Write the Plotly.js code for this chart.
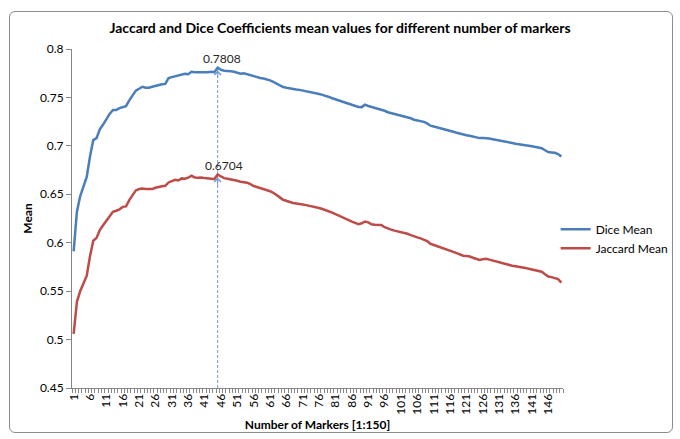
<!DOCTYPE html>
<html>
<head>
<meta charset="utf-8">
<script src="https://cdn.plot.ly/plotly-3.0.1.min.js"></script>
<style>
  html, body { margin: 0; padding: 0; background: #fff; }
  #wrap { position: relative; width: 680px; height: 439px; }
  #chart { width: 680px; height: 439px; }
  #frame { position: absolute; left: 9px; top: 11px; width: 662px; height: 420px;
           border: 1px solid #8c8c8c; border-radius: 6px; pointer-events: none; }
</style>
</head>
<body>
<div id="wrap">
  <div id="chart"></div>
  <div id="frame"></div>
</div>
<script>
// Number of markers (categories 1..150)
const markers = Array.from({length: 150}, (_, i) => i + 1);

// Tick labels shown on the x axis
const xTickLabels = ["1","6","11","16","21","26","31","36","41","46","51","56","61","66","71","76","81","86","91","96","101","106","111","116","121","126","131","136","141","146"];

// Dice mean values
const diceMean = [
  0.591,0.632,0.648,0.658,0.668,0.689,0.706,0.708,0.717,0.722,
  0.728,0.733,0.737,0.737,0.739,0.740,0.741,0.747,0.752,0.757,
  0.759,0.761,0.760,0.760,0.761,0.762,0.763,0.7635,0.764,0.770,
  0.771,0.772,0.773,0.7735,0.7745,0.774,0.7765,0.776,0.776,0.7755,
  0.776,0.776,0.7765,0.776,0.7808,0.7786,0.7776,0.7775,0.7770,0.7765,
  0.7752,0.7745,0.7750,0.7740,0.7725,0.7715,0.7708,0.7700,0.7695,0.7688,
  0.7676,0.7660,0.7641,0.7625,0.7607,0.7600,0.7592,0.7587,0.7582,0.7578,
  0.7572,0.7566,0.7560,0.7553,0.7545,0.7535,0.7526,0.7518,0.7505,0.7492,
  0.7480,0.7468,0.7458,0.7446,0.7435,0.7420,0.7407,0.7402,0.7400,0.7425,
  0.7412,0.7402,0.7395,0.7388,0.7378,0.7362,0.7347,0.7338,0.7330,0.7322,
  0.7315,0.7306,0.7298,0.7285,0.7270,0.7262,0.7256,0.7248,0.7232,0.7208,
  0.7200,0.7192,0.7184,0.7175,0.7165,0.7156,0.7146,0.7136,0.7125,0.7116,
  0.7110,0.7104,0.7095,0.7084,0.7080,0.7081,0.7080,0.7075,0.7068,0.7063,
  0.7058,0.7052,0.7046,0.7040,0.7030,0.7022,0.7018,0.7015,0.7012,0.7002,
  0.6995,0.6988,0.6980,0.6975,0.6955,0.6936,0.6932,0.6928,0.6915,0.6890
];

// Jaccard mean values
const jaccardMean = [
  0.506,0.539,0.550,0.558,0.566,0.586,0.602,0.605,0.613,0.618,
  0.623,0.627,0.632,0.633,0.6345,0.637,0.6375,0.644,0.6485,0.654,
  0.6554,0.656,0.6554,0.6557,0.6554,0.6567,0.6578,0.6582,0.6588,0.6622,
  0.6636,0.665,0.6643,0.6664,0.6661,0.6671,0.6691,0.6674,0.6671,0.6674,
  0.6667,0.6667,0.666,0.6657,0.6704,0.6684,0.6667,0.6660,0.6655,0.6648,
  0.6640,0.6630,0.6628,0.6620,0.6605,0.6585,0.6575,0.6565,0.6555,0.6545,
  0.6532,0.6515,0.6495,0.6468,0.6443,0.6430,0.6418,0.6410,0.6405,0.6402,
  0.6395,0.6388,0.6382,0.6375,0.6365,0.6358,0.6348,0.6338,0.6325,0.6310,
  0.6295,0.6278,0.6262,0.6248,0.6232,0.6218,0.6205,0.6192,0.6200,0.6219,
  0.6210,0.6190,0.6185,0.6186,0.6184,0.6160,0.6145,0.6135,0.6125,0.6117,
  0.6110,0.6100,0.6092,0.6078,0.6064,0.6055,0.6045,0.6035,0.6018,0.5989,
  0.5978,0.5965,0.5952,0.5942,0.5932,0.5921,0.5905,0.5892,0.5878,0.5866,
  0.5862,0.5858,0.5845,0.5830,0.5823,0.5830,0.5834,0.5825,0.5815,0.5806,
  0.5798,0.5788,0.5778,0.5768,0.5762,0.5756,0.5752,0.5746,0.5740,0.5732,
  0.5724,0.5718,0.5710,0.5700,0.5675,0.5651,0.5645,0.5638,0.5625,0.5589
];

const FONT = "Lato, 'Open Sans', sans-serif";
const diceColor = "#4A7EBB";
const jacColor = "#BE4B48";
const guideColor = "#6F9BD6";

function argmax(a) { let k = 0; for (let i = 1; i < a.length; i++) if (a[i] > a[k]) k = i; return k; }
const dIdx = argmax(diceMean), jIdx = argmax(jaccardMean);
const dPeakX = markers[dIdx], dPeakY = diceMean[dIdx];
const jPeakX = markers[jIdx], jPeakY = jaccardMean[jIdx];

const traces = [
  { x: markers, y: diceMean, type: "scatter", mode: "lines", name: "Dice Mean",
    line: { color: diceColor, width: 2.5 } },
  { x: markers, y: jaccardMean, type: "scatter", mode: "lines", name: "Jaccard Mean",
    line: { color: jacColor, width: 2.5 } }
];

const tickVals = xTickLabels.map(Number);

const layout = {
  width: 680, height: 439,
  margin: { l: 72, r: 117, t: 49, b: 51, autoexpand: false },
  paper_bgcolor: "#ffffff", plot_bgcolor: "#ffffff",
  font: { family: FONT, size: 12, color: "#000" },
  title: { text: "Jaccard and Dice Coefficients mean values for different number of markers",
           font: { family: FONT, size: 14, color: "#000", weight: "bold" },
           x: 0.5, xref: "container", y: 1 - 28 / 439, yref: "container", yanchor: "middle" },
  showlegend: true,
  legend: { x: 0.985, xanchor: "left", xref: "paper", y: 0.44, yanchor: "middle",
            font: { family: FONT, size: 12, color: "#000" }, itemwidth: 30,
            bgcolor: "rgba(0,0,0,0)", tracegroupgap: 0 },
  xaxis: {
    range: [0.5, 150.5], showgrid: false, zeroline: false,
    showline: true, linecolor: "#868686", linewidth: 1,
    tickmode: "array", tickvals: tickVals, ticktext: xTickLabels,
    ticks: "outside", ticklen: 0, tickcolor: "#868686",
    tickangle: -90, tickfont: { family: FONT, size: 12, color: "#000" },
    minor: { ticks: "outside", ticklen: 4, tickcolor: "#868686", tickmode: "linear", tick0: 0.5, dtick: 1, showgrid: false },
    title: { text: "Number of Markers [1:150]", font: { family: FONT, size: 12, color: "#000", weight: "bold" }, standoff: 6 },
    automargin: false
  },
  yaxis: {
    range: [0.45, 0.8], dtick: 0.05, tick0: 0.45, showgrid: false, zeroline: false,
    showline: true, linecolor: "#868686", linewidth: 1,
    ticks: "outside", ticklen: 5, tickcolor: "#868686",
    tickfont: { family: FONT, size: 12, color: "#000" },
    title: { text: "Mean", font: { family: FONT, size: 12, color: "#000", weight: "bold" }, standoff: 4 },
    automargin: false
  },
  shapes: [
    { type: "line", xref: "x", yref: "y", x0: dPeakX, x1: dPeakX, y0: 0.45, y1: dPeakY,
      line: { color: guideColor, width: 1, dash: "3px,2px" }, layer: "below" }
  ],
  annotations: [
    { x: dPeakX, y: dPeakY, xref: "x", yref: "y", text: "0.7808", showarrow: false,
      yanchor: "bottom", yshift: 0, xshift: 4, font: { family: FONT, size: 12, color: "#262626" } },
    { x: jPeakX, y: jPeakY, xref: "x", yref: "y", text: "0.6704", showarrow: false,
      yanchor: "bottom", yshift: 0, xshift: 6, font: { family: FONT, size: 12, color: "#262626" } },
    { x: dPeakX, y: dPeakY, xref: "x", yref: "y", text: "", showarrow: true,
      ax: 0, ay: 12, arrowhead: 4, arrowsize: 1.3, arrowwidth: 1, arrowcolor: guideColor, standoff: 3 },
    { x: jPeakX, y: jPeakY, xref: "x", yref: "y", text: "", showarrow: true,
      ax: 0, ay: 12, arrowhead: 4, arrowsize: 1.3, arrowwidth: 1, arrowcolor: guideColor, standoff: 3 }
  ]
};

Plotly.newPlot("chart", traces, layout, { displayModeBar: false, staticPlot: true });
</script>
</body>
</html>
